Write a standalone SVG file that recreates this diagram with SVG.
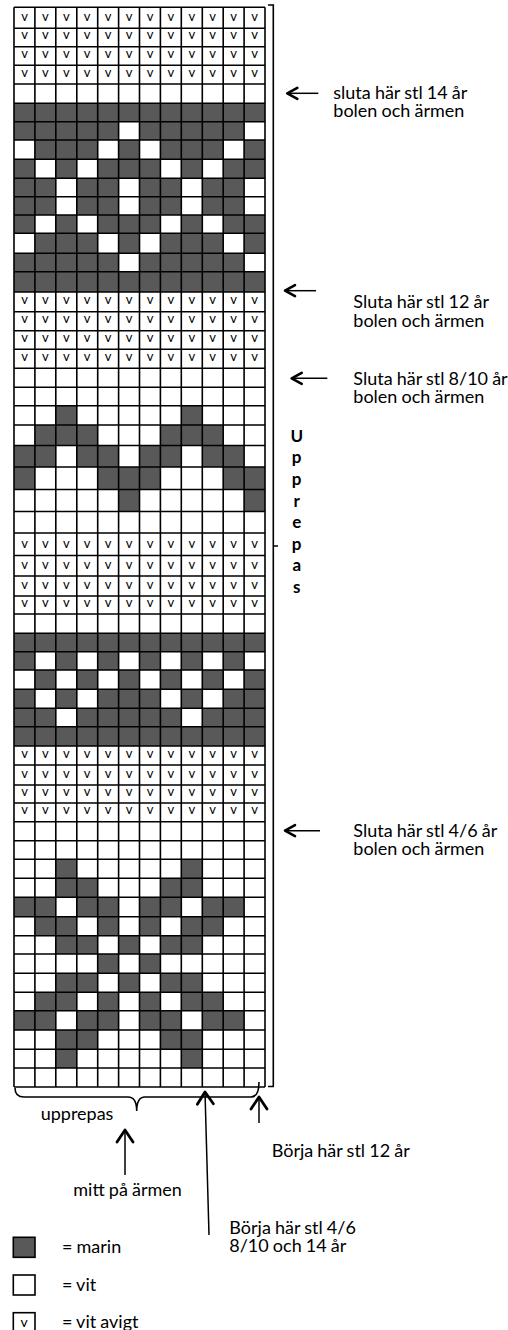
<svg xmlns="http://www.w3.org/2000/svg" width="508" height="1330" viewBox="0 0 508 1330">
<style>
.d{fill:#595959}
.gl{fill:none;stroke:#000;stroke-width:1.6}
.v{font-family:Lato,"Liberation Sans",sans-serif;font-size:13px;text-anchor:middle;fill:#000}
.lbl{font-family:Lato,"Liberation Sans",sans-serif;font-size:18px;fill:#000;word-spacing:-0.5px}
.up{font-family:Lato,"Liberation Sans",sans-serif;font-size:17px;font-weight:bold;text-anchor:middle;fill:#000}
.br{fill:none;stroke:#000;stroke-width:1.6}
.ar{fill:none;stroke:#000;stroke-width:1.5}
.sw{stroke:#000;stroke-width:1.6}
</style>
<defs>
<marker id="ah" viewBox="0 0 14 16" refX="12" refY="8" markerWidth="14" markerHeight="16" markerUnits="userSpaceOnUse" orient="auto">
<path d="M2,2.5 L12,8 L2,13.5" fill="none" stroke="#000" stroke-width="2.6" stroke-linecap="round" stroke-linejoin="round"/>
</marker>
<marker id="ahL" viewBox="0 0 16 20" refX="14" refY="10" markerWidth="16" markerHeight="20" markerUnits="userSpaceOnUse" orient="auto">
<path d="M2,2 L14,10 L2,18" fill="none" stroke="#000" stroke-width="2.8" stroke-linecap="round" stroke-linejoin="round"/>
</marker>
</defs>
<rect width="508" height="1330" fill="#fff"/>
<g id="chart">
<g id="dark-cells">
<rect class="d" x="14" y="103.3" width="251" height="18.4"/>
<rect class="d" x="14" y="121.7" width="104.6" height="18.3"/><rect class="d" x="139.5" y="121.7" width="104.6" height="18.3"/>
<rect class="d" x="34.9" y="140" width="62.8" height="19.3"/><rect class="d" x="118.6" y="140" width="20.9" height="19.3"/><rect class="d" x="160.4" y="140" width="62.8" height="19.3"/><rect class="d" x="244.1" y="140" width="20.9" height="19.3"/>
<rect class="d" x="14" y="159.3" width="20.9" height="19"/><rect class="d" x="55.8" y="159.3" width="20.9" height="19"/><rect class="d" x="97.7" y="159.3" width="62.8" height="19"/><rect class="d" x="181.3" y="159.3" width="20.9" height="19"/><rect class="d" x="223.2" y="159.3" width="41.8" height="19"/>
<rect class="d" x="14" y="178.3" width="41.8" height="18.4"/><rect class="d" x="76.8" y="178.3" width="41.8" height="18.4"/><rect class="d" x="139.5" y="178.3" width="41.8" height="18.4"/><rect class="d" x="202.3" y="178.3" width="41.8" height="18.4"/>
<rect class="d" x="14" y="196.7" width="41.8" height="18.3"/><rect class="d" x="76.8" y="196.7" width="41.8" height="18.3"/><rect class="d" x="139.5" y="196.7" width="41.8" height="18.3"/><rect class="d" x="202.3" y="196.7" width="41.8" height="18.3"/>
<rect class="d" x="14" y="215" width="20.9" height="18.3"/><rect class="d" x="55.8" y="215" width="20.9" height="18.3"/><rect class="d" x="97.7" y="215" width="62.8" height="18.3"/><rect class="d" x="181.3" y="215" width="20.9" height="18.3"/><rect class="d" x="223.2" y="215" width="41.8" height="18.3"/>
<rect class="d" x="34.9" y="233.3" width="62.8" height="20"/><rect class="d" x="118.6" y="233.3" width="20.9" height="20"/><rect class="d" x="160.4" y="233.3" width="62.8" height="20"/><rect class="d" x="244.1" y="233.3" width="20.9" height="20"/>
<rect class="d" x="14" y="253.3" width="104.6" height="18.4"/><rect class="d" x="139.5" y="253.3" width="104.6" height="18.4"/>
<rect class="d" x="14" y="271.7" width="251" height="20.3"/>

<rect class="d" x="55.8" y="405.7" width="20.9" height="19.3"/><rect class="d" x="181.3" y="405.7" width="20.9" height="19.3"/>
<rect class="d" x="34.9" y="425" width="62.8" height="20.5"/><rect class="d" x="160.4" y="425" width="62.8" height="20.5"/>
<rect class="d" x="14" y="445.5" width="41.8" height="21.5"/><rect class="d" x="76.8" y="445.5" width="41.8" height="21.5"/><rect class="d" x="139.5" y="445.5" width="41.8" height="21.5"/><rect class="d" x="202.3" y="445.5" width="41.8" height="21.5"/>
<rect class="d" x="14" y="467" width="20.9" height="22.5"/><rect class="d" x="97.7" y="467" width="62.8" height="22.5"/><rect class="d" x="223.2" y="467" width="41.8" height="22.5"/>
<rect class="d" x="118.6" y="489.5" width="20.9" height="22"/><rect class="d" x="244.1" y="489.5" width="20.9" height="22"/>

<rect class="d" x="14" y="633.3" width="251" height="18.4"/>
<rect class="d" x="14" y="651.7" width="20.9" height="18.3"/><rect class="d" x="55.8" y="651.7" width="20.9" height="18.3"/><rect class="d" x="97.7" y="651.7" width="20.9" height="18.3"/><rect class="d" x="139.5" y="651.7" width="20.9" height="18.3"/><rect class="d" x="181.3" y="651.7" width="20.9" height="18.3"/><rect class="d" x="223.2" y="651.7" width="20.9" height="18.3"/>
<rect class="d" x="34.9" y="670" width="20.9" height="19.3"/><rect class="d" x="76.8" y="670" width="20.9" height="19.3"/><rect class="d" x="118.6" y="670" width="20.9" height="19.3"/><rect class="d" x="160.4" y="670" width="20.9" height="19.3"/><rect class="d" x="202.3" y="670" width="20.9" height="19.3"/><rect class="d" x="244.1" y="670" width="20.9" height="19.3"/>
<rect class="d" x="14" y="689.3" width="20.9" height="19"/><rect class="d" x="55.8" y="689.3" width="20.9" height="19"/><rect class="d" x="97.7" y="689.3" width="62.8" height="19"/><rect class="d" x="181.3" y="689.3" width="20.9" height="19"/><rect class="d" x="223.2" y="689.3" width="41.8" height="19"/>
<rect class="d" x="14" y="708.3" width="41.8" height="18.4"/><rect class="d" x="76.8" y="708.3" width="104.5" height="18.4"/><rect class="d" x="202.3" y="708.3" width="62.7" height="18.4"/>
<rect class="d" x="14" y="726.7" width="251" height="19.3"/>

<rect class="d" x="55.8" y="859.3" width="20.9" height="19"/><rect class="d" x="181.3" y="859.3" width="20.9" height="19"/>
<rect class="d" x="55.8" y="878.3" width="41.9" height="19"/><rect class="d" x="160.4" y="878.3" width="41.9" height="19"/>
<rect class="d" x="14" y="897.3" width="41.8" height="19.4"/><rect class="d" x="76.8" y="897.3" width="41.8" height="19.4"/><rect class="d" x="139.5" y="897.3" width="41.8" height="19.4"/><rect class="d" x="202.3" y="897.3" width="41.8" height="19.4"/>
<rect class="d" x="34.9" y="916.7" width="41.9" height="19"/><rect class="d" x="97.7" y="916.7" width="20.9" height="19"/><rect class="d" x="139.5" y="916.7" width="20.9" height="19"/><rect class="d" x="181.3" y="916.7" width="41.9" height="19"/>
<rect class="d" x="55.8" y="935.7" width="41.9" height="18.3"/><rect class="d" x="118.6" y="935.7" width="20.9" height="18.3"/><rect class="d" x="160.4" y="935.7" width="41.9" height="18.3"/>
<rect class="d" x="97.7" y="954" width="20.9" height="19.3"/><rect class="d" x="139.5" y="954" width="20.9" height="19.3"/>
<rect class="d" x="55.8" y="973.3" width="41.9" height="19"/><rect class="d" x="118.6" y="973.3" width="20.9" height="19"/><rect class="d" x="160.4" y="973.3" width="41.9" height="19"/>
<rect class="d" x="34.9" y="992.3" width="41.9" height="18.4"/><rect class="d" x="97.7" y="992.3" width="20.9" height="18.4"/><rect class="d" x="139.5" y="992.3" width="20.9" height="18.4"/><rect class="d" x="181.3" y="992.3" width="41.9" height="18.4"/>
<rect class="d" x="14" y="1010.7" width="41.8" height="19.3"/><rect class="d" x="76.8" y="1010.7" width="41.8" height="19.3"/><rect class="d" x="139.5" y="1010.7" width="41.8" height="19.3"/><rect class="d" x="202.3" y="1010.7" width="41.8" height="19.3"/>
<rect class="d" x="55.8" y="1030" width="41.9" height="19.3"/><rect class="d" x="160.4" y="1030" width="41.9" height="19.3"/>
<rect class="d" x="55.8" y="1049.3" width="20.9" height="18.7"/><rect class="d" x="181.3" y="1049.3" width="20.9" height="18.7"/>
</g>
<path id="grid-v" class="gl" d="M14,7.3V1087M34.9,7.3V1087M55.8,7.3V1087M76.8,7.3V1087M97.7,7.3V1087M118.6,7.3V1087M139.5,7.3V1087M160.4,7.3V1087M181.3,7.3V1087M202.3,7.3V1087M223.2,7.3V1087M244.1,7.3V1087M265,7.3V1087"/>
<path id="grid-h" class="gl" d="M14,7.3H265M14,28.3H265M14,46.7H265M14,65.3H265M14,84H265M14,103.3H265M14,121.7H265M14,140H265M14,159.3H265M14,178.3H265M14,196.7H265M14,215H265M14,233.3H265M14,253.3H265M14,271.7H265M14,292H265M14,311.7H265M14,330.7H265M14,349.3H265M14,368.3H265M14,387.3H265M14,405.7H265M14,425H265M14,445.5H265M14,467H265M14,489.5H265M14,511.5H265M14,533H265M14,555.5H265M14,576H265M14,596H265M14,614H265M14,633.3H265M14,651.7H265M14,670H265M14,689.3H265M14,708.3H265M14,726.7H265M14,746H265M14,765H265M14,785H265M14,803H265M14,821.7H265M14,840.7H265M14,859.3H265M14,878.3H265M14,897.3H265M14,916.7H265M14,935.7H265M14,954H265M14,973.3H265M14,992.3H265M14,1010.7H265M14,1030H265M14,1049.3H265M14,1068H265M14,1087H265"/>
<g id="purl-marks" class="v">
<g transform="translate(0,20.8)"><text x="24.5">v</text><text x="45.4">v</text><text x="66.3">v</text><text x="87.2">v</text><text x="108.1">v</text><text x="129.1">v</text><text x="150">v</text><text x="170.9">v</text><text x="191.8">v</text><text x="212.7">v</text><text x="233.6">v</text><text x="254.5">v</text></g>
<g transform="translate(0,39.2)"><text x="24.5">v</text><text x="45.4">v</text><text x="66.3">v</text><text x="87.2">v</text><text x="108.1">v</text><text x="129.1">v</text><text x="150">v</text><text x="170.9">v</text><text x="191.8">v</text><text x="212.7">v</text><text x="233.6">v</text><text x="254.5">v</text></g>
<g transform="translate(0,57.8)"><text x="24.5">v</text><text x="45.4">v</text><text x="66.3">v</text><text x="87.2">v</text><text x="108.1">v</text><text x="129.1">v</text><text x="150">v</text><text x="170.9">v</text><text x="191.8">v</text><text x="212.7">v</text><text x="233.6">v</text><text x="254.5">v</text></g>
<g transform="translate(0,76.5)"><text x="24.5">v</text><text x="45.4">v</text><text x="66.3">v</text><text x="87.2">v</text><text x="108.1">v</text><text x="129.1">v</text><text x="150">v</text><text x="170.9">v</text><text x="191.8">v</text><text x="212.7">v</text><text x="233.6">v</text><text x="254.5">v</text></g>
<g transform="translate(0,304.2)"><text x="24.5">v</text><text x="45.4">v</text><text x="66.3">v</text><text x="87.2">v</text><text x="108.1">v</text><text x="129.1">v</text><text x="150">v</text><text x="170.9">v</text><text x="191.8">v</text><text x="212.7">v</text><text x="233.6">v</text><text x="254.5">v</text></g>
<g transform="translate(0,323.2)"><text x="24.5">v</text><text x="45.4">v</text><text x="66.3">v</text><text x="87.2">v</text><text x="108.1">v</text><text x="129.1">v</text><text x="150">v</text><text x="170.9">v</text><text x="191.8">v</text><text x="212.7">v</text><text x="233.6">v</text><text x="254.5">v</text></g>
<g transform="translate(0,341.8)"><text x="24.5">v</text><text x="45.4">v</text><text x="66.3">v</text><text x="87.2">v</text><text x="108.1">v</text><text x="129.1">v</text><text x="150">v</text><text x="170.9">v</text><text x="191.8">v</text><text x="212.7">v</text><text x="233.6">v</text><text x="254.5">v</text></g>
<g transform="translate(0,360.8)"><text x="24.5">v</text><text x="45.4">v</text><text x="66.3">v</text><text x="87.2">v</text><text x="108.1">v</text><text x="129.1">v</text><text x="150">v</text><text x="170.9">v</text><text x="191.8">v</text><text x="212.7">v</text><text x="233.6">v</text><text x="254.5">v</text></g>
<g transform="translate(0,548)"><text x="24.5">v</text><text x="45.4">v</text><text x="66.3">v</text><text x="87.2">v</text><text x="108.1">v</text><text x="129.1">v</text><text x="150">v</text><text x="170.9">v</text><text x="191.8">v</text><text x="212.7">v</text><text x="233.6">v</text><text x="254.5">v</text></g>
<g transform="translate(0,568.5)"><text x="24.5">v</text><text x="45.4">v</text><text x="66.3">v</text><text x="87.2">v</text><text x="108.1">v</text><text x="129.1">v</text><text x="150">v</text><text x="170.9">v</text><text x="191.8">v</text><text x="212.7">v</text><text x="233.6">v</text><text x="254.5">v</text></g>
<g transform="translate(0,588.5)"><text x="24.5">v</text><text x="45.4">v</text><text x="66.3">v</text><text x="87.2">v</text><text x="108.1">v</text><text x="129.1">v</text><text x="150">v</text><text x="170.9">v</text><text x="191.8">v</text><text x="212.7">v</text><text x="233.6">v</text><text x="254.5">v</text></g>
<g transform="translate(0,606.5)"><text x="24.5">v</text><text x="45.4">v</text><text x="66.3">v</text><text x="87.2">v</text><text x="108.1">v</text><text x="129.1">v</text><text x="150">v</text><text x="170.9">v</text><text x="191.8">v</text><text x="212.7">v</text><text x="233.6">v</text><text x="254.5">v</text></g>
<g transform="translate(0,757.5)"><text x="24.5">v</text><text x="45.4">v</text><text x="66.3">v</text><text x="87.2">v</text><text x="108.1">v</text><text x="129.1">v</text><text x="150">v</text><text x="170.9">v</text><text x="191.8">v</text><text x="212.7">v</text><text x="233.6">v</text><text x="254.5">v</text></g>
<g transform="translate(0,777.5)"><text x="24.5">v</text><text x="45.4">v</text><text x="66.3">v</text><text x="87.2">v</text><text x="108.1">v</text><text x="129.1">v</text><text x="150">v</text><text x="170.9">v</text><text x="191.8">v</text><text x="212.7">v</text><text x="233.6">v</text><text x="254.5">v</text></g>
<g transform="translate(0,795.5)"><text x="24.5">v</text><text x="45.4">v</text><text x="66.3">v</text><text x="87.2">v</text><text x="108.1">v</text><text x="129.1">v</text><text x="150">v</text><text x="170.9">v</text><text x="191.8">v</text><text x="212.7">v</text><text x="233.6">v</text><text x="254.5">v</text></g>
<g transform="translate(0,814.2)"><text x="24.5">v</text><text x="45.4">v</text><text x="66.3">v</text><text x="87.2">v</text><text x="108.1">v</text><text x="129.1">v</text><text x="150">v</text><text x="170.9">v</text><text x="191.8">v</text><text x="212.7">v</text><text x="233.6">v</text><text x="254.5">v</text></g>
</g>
</g>
<g id="connectors">
<path id="repeat-bracket" class="br" d="M268,5H273.3V1086.5H268M273.3,546H278"/>
<path id="repeat-brace" class="br" d="M15,1088Q15,1097 24,1097H128Q136.7,1097 136.7,1111Q136.7,1097 145,1097H251Q259,1097 259,1082"/>
<line id="arrow-14" class="ar" x1="318.3" y1="93.3" x2="287.3" y2="93.3" marker-end="url(#ah)"/>
<line id="arrow-12" class="ar" x1="316" y1="290.7" x2="285" y2="290.7" marker-end="url(#ah)"/>
<line id="arrow-8-10" class="ar" x1="327.3" y1="378.3" x2="291.7" y2="378.3" marker-end="url(#ah)"/>
<line id="arrow-4-6" class="ar" x1="320" y1="830.7" x2="285" y2="830.7" marker-end="url(#ah)"/>
<line id="arrow-mitt" class="ar" x1="125" y1="1175" x2="125" y2="1130" marker-end="url(#ahL)"/>
<line id="arrow-borja-a" class="ar" x1="209" y1="1235" x2="205" y2="1092" marker-end="url(#ahL)"/>
<line id="arrow-borja-12" class="ar" x1="259" y1="1123" x2="259" y2="1097" marker-end="url(#ahL)"/>
</g>
<g id="label-14"><text class="lbl" x="333.3" y="99.3">sluta här stl 14 år</text><text class="lbl" x="333.3" y="116.7">bolen och ärmen</text></g>
<g id="label-12"><text class="lbl" x="353.3" y="308.3">Sluta här stl 12 år</text><text class="lbl" x="353.3" y="326.7">bolen och ärmen</text></g>
<g id="label-8-10"><text class="lbl" x="353.3" y="385">Sluta här stl 8/10 år</text><text class="lbl" x="353.3" y="403.3">bolen och ärmen</text></g>
<g id="label-4-6"><text class="lbl" x="353.3" y="837.3">Sluta här stl 4/6 år</text><text class="lbl" x="353.3" y="855">bolen och ärmen</text></g>
<g id="label-upprepas-v"><text class="up" x="296.7" y="441.7">U<tspan x="296.7" dy="21.6">p</tspan><tspan x="296.7" dy="21.6">p</tspan><tspan x="296.7" dy="21.6">r</tspan><tspan x="296.7" dy="21.6">e</tspan><tspan x="296.7" dy="21.6">p</tspan><tspan x="296.7" dy="21.6">a</tspan><tspan x="296.7" dy="21.6">s</tspan></text></g>
<g id="label-upprepas"><text class="lbl" x="40.7" y="1120">upprepas</text></g>
<g id="label-mitt"><text class="lbl" x="73.3" y="1195.7">mitt på ärmen</text></g>
<g id="label-borja-12"><text class="lbl" x="271.7" y="1157.3">Börja här stl 12 år</text></g>
<g id="label-borja-a"><text class="lbl" x="229.3" y="1234">Börja här stl 4/6</text><text class="lbl" x="229.3" y="1252.3">8/10 och 14 år</text></g>
<g id="legend">
<g id="legend-marin"><rect class="d sw" x="13.3" y="1237.3" width="21.7" height="20"/><text class="lbl" x="62" y="1252.7">= marin</text></g>
<g id="legend-vit"><rect class="sw" fill="#fff" x="13.3" y="1275" width="21.7" height="20"/><text class="lbl" x="62" y="1290.7">= vit</text></g>
<g id="legend-avigt"><rect class="sw" fill="#fff" x="13.3" y="1312.7" width="21.7" height="20"/><text class="v" x="24.2" y="1327" style="font-size:14px">v</text><text class="lbl" x="62" y="1328.3">= vit avigt</text></g>
</g>
</svg>
